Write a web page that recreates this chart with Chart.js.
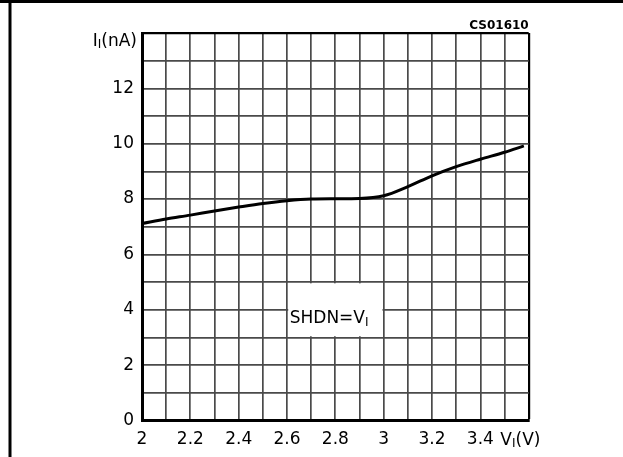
<!DOCTYPE html>
<html>
<head>
<meta charset="utf-8">
<script src="https://cdn.jsdelivr.net/npm/chart.js@4.4.1/dist/chart.umd.min.js"></script>
<style>
html,body{margin:0;padding:0;background:#fff;}
canvas{display:block;}
</style>
</head>
<body>
<canvas id="c" width="623" height="457"></canvas>
<script>
// ---- data ----
const voltages = [2.0, 2.1, 2.2, 2.3, 2.4, 2.5, 2.6, 2.7, 2.8, 2.9, 3.0, 3.1, 3.2, 3.3, 3.4, 3.5, 3.58];
const currents = [7.12, 7.28, 7.42, 7.57, 7.71, 7.84, 7.94, 8.0, 8.01, 8.02, 8.12, 8.45, 8.84, 9.17, 9.44, 9.69, 9.92];
const xRange = [2, 3.6];
const yRange = [0, 14];
const xLabelValues = [2, 2.2, 2.4, 2.6, 2.8, 3, 3.2, 3.4];
const yLabelValues = [0, 2, 4, 6, 8, 10, 12];
const noteBox = {x0: 2.6, x1: 3.0, y0: 3, y1: 5};
const figureCode = 'CS01610';

const FONT = '"DejaVu Sans", sans-serif';

function subText(ctx, parts, x, y, align) {
  let total = 0;
  parts.forEach(p => { ctx.font = p[1] + 'px ' + FONT; total += ctx.measureText(p[0]).width; });
  let cx = align === 'right' ? x - total : x;
  ctx.textAlign = 'left';
  ctx.textBaseline = 'alphabetic';
  parts.forEach(p => {
    ctx.font = p[1] + 'px ' + FONT;
    ctx.fillText(p[0], cx, y + p[2]);
    cx += ctx.measureText(p[0]).width;
  });
}

const decor = {
  id: 'decor',
  beforeDraw(chart) {
    const ctx = chart.ctx;
    ctx.save();
    ctx.fillStyle = '#fff';
    ctx.fillRect(0, 0, chart.width, chart.height);
    ctx.fillStyle = '#000';
    ctx.fillRect(0, 0, chart.width, 3);
    ctx.fillRect(8.5, 0, 3, chart.height);
    ctx.restore();
  },
  beforeDatasetsDraw(chart) {
    const ctx = chart.ctx, xs = chart.scales.x, ys = chart.scales.y;
    const l = xs.getPixelForValue(noteBox.x0) + 1.2, r = xs.getPixelForValue(noteBox.x1) - 1.2;
    const t = ys.getPixelForValue(noteBox.y1) + 1.2, b = ys.getPixelForValue(noteBox.y0) - 1.2;
    ctx.save();
    ctx.fillStyle = '#fff';
    ctx.fillRect(l, t, r - l, b - t);
    ctx.fillStyle = '#000';
    subText(ctx, [['SHDN=V', 17, 0], ['I', 12, 3]], l + 1.5, ys.getPixelForValue(3.6) + 2, 'left');
    ctx.restore();
  },
  afterDraw(chart) {
    const ctx = chart.ctx, ca = chart.chartArea;
    ctx.save();
    ctx.fillStyle = '#000';
    subText(ctx, [['I', 17, 0], ['I', 12, 2.5], ['(nA)', 17, 0]], ca.left - 5, ca.top + 12.7, 'right');
    subText(ctx, [['V', 17, 0], ['I', 12, 2.5], ['(V)', 17, 0]], chart.scales.x.getPixelForValue(3.4) + 20, ca.bottom + 24, 'left');
    ctx.font = 'bold 12px ' + FONT;
    ctx.textAlign = 'right';
    ctx.textBaseline = 'alphabetic';
    ctx.fillText(figureCode, ca.right, ca.top - 3.7);
    ctx.restore();
  }
};

new Chart(document.getElementById('c'), {
  type: 'line',
  data: {
    datasets: [{
      data: voltages.map((v, i) => ({x: v, y: currents[i]})),
      borderColor: '#000',
      borderWidth: 3,
      pointRadius: 0,
      fill: false,
      cubicInterpolationMode: 'monotone'
    }]
  },
  options: {
    responsive: false,
    animation: false,
    devicePixelRatio: 1,
    layout: {padding: {left: 0, right: 94.3, top: 33, bottom: 0}},
    plugins: {legend: {display: false}, tooltip: {enabled: false}},
    scales: {
      x: {
        type: 'linear', min: xRange[0], max: xRange[1],
        afterFit(s) { s.height = 36.5; },
        ticks: {
          stepSize: 0.1, autoSkip: false, maxRotation: 0, padding: 8.5,
          color: '#000', font: {family: FONT, size: 17},
          callback(v) {
            const t = Math.round(v * 10);
            const hit = xLabelValues.find(q => Math.round(q * 10) === t);
            return hit !== undefined ? String(hit) : '';
          }
        },
        grid: {
          drawTicks: false,
          color: c => (c.tick && Math.round(c.tick.value * 10) === 36) ? '#000' : '#4a4a4a',
          lineWidth: c => (c.tick && Math.round(c.tick.value * 10) === 36) ? 2.2 : 1.7
        },
        border: {display: true, color: '#000', width: 3}
      },
      y: {
        min: yRange[0], max: yRange[1],
        afterFit(s) { s.width = 142; },
        ticks: {
          stepSize: 1, autoSkip: false, padding: 8,
          color: '#000', font: {family: FONT, size: 17},
          callback(v) { return yLabelValues.includes(Math.round(v)) ? String(Math.round(v)) : ''; }
        },
        grid: {
          drawTicks: false,
          color: c => (c.tick && c.tick.value === 14) ? '#000' : '#4a4a4a',
          lineWidth: c => (c.tick && c.tick.value === 14) ? 2.2 : 1.7
        },
        border: {display: true, color: '#000', width: 3}
      }
    }
  },
  plugins: [decor]
});
</script>
</body>
</html>
